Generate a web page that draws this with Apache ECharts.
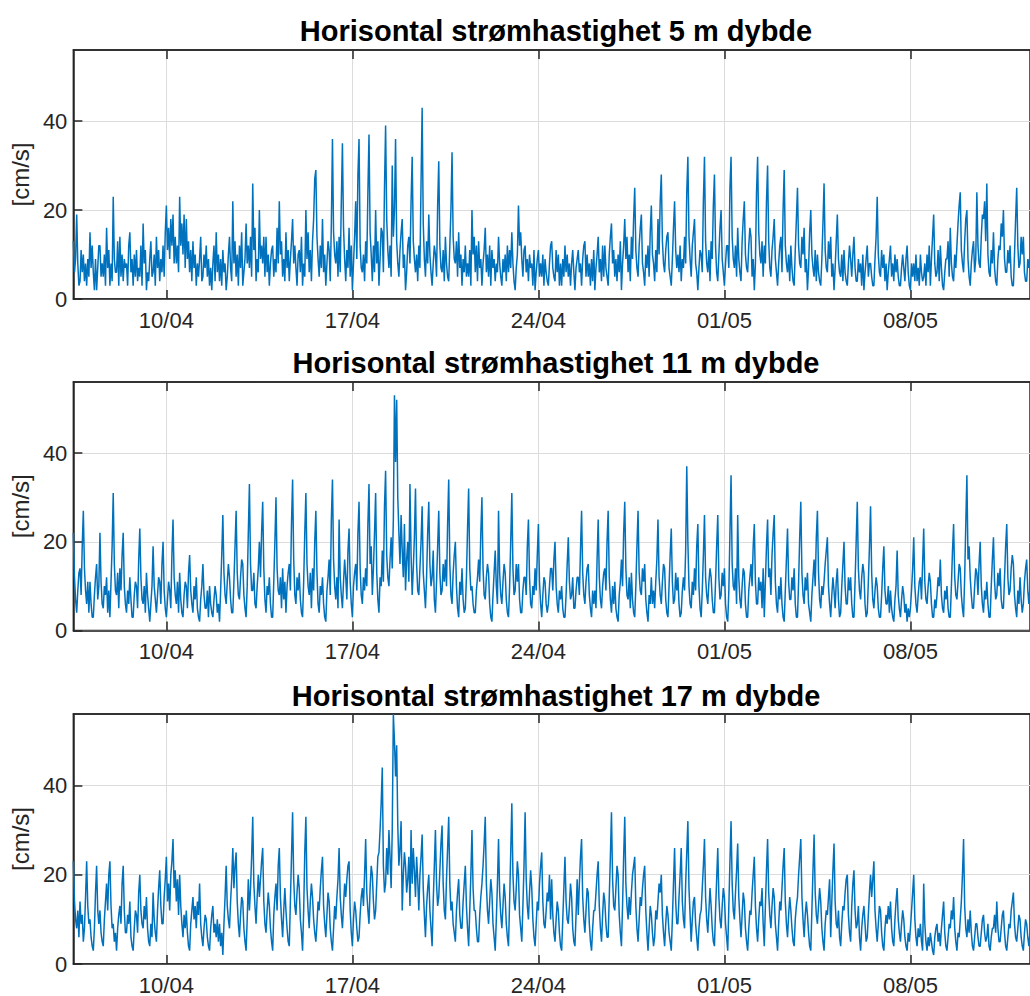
<!DOCTYPE html>
<html><head><meta charset="utf-8">
<script src="https://cdn.jsdelivr.net/npm/echarts@6/dist/echarts.min.js"></script>
<style>html,body{margin:0;padding:0;background:#fff}#c{width:1030px;height:996px}</style>
</head><body><div id="c"></div>
<script>
// one value per hour starting 06/04 12:00 (x = days since start)
const sampleStepHours = 1;
const tickDays = [3.5, 10.5, 17.5, 24.5, 31.5];
const tickLabels = ['10/04', '17/04', '24/04', '01/05', '08/05'];
const yTicks = [0, 20, 40];
const titles = ['Horisontal strømhastighet 5 m dybde', 'Horisontal strømhastighet 11 m dybde', 'Horisontal strømhastighet 17 m dybde'];
const yLabel = '[cm/s]';

const speed5m = [
13,6,9,19,8,3,4,11,6,10,4,8,3,9,5,15,7,12,6,2,9,2,7,12,
12,5,8,5,10,3,16,7,11,3,8,4,23,9,6,6,13,3,14,5,10,4,9,7,
8,3,12,15,6,9,3,10,5,11,4,7,5,12,3,17,8,11,2,6,4,9,13,5,
6,10,3,14,7,11,4,9,6,12,5,15,21,11,16,9,18,12,19,8,14,8,12,6,
23,12,17,10,19,7,18,9,13,6,11,4,13,7,10,3,8,5,9,14,4,5,10,7,
12,5,9,3,7,2,8,12,4,15,6,10,4,9,3,11,6,8,2,5,10,14,7,4,
22,8,13,5,10,3,12,7,15,3,6,9,17,8,12,7,14,5,26,11,16,4,9,6,
20,9,12,8,14,5,14,6,10,3,8,11,12,5,9,6,16,8,22,10,13,5,9,4,
15,7,11,4,9,13,18,8,12,7,3,10,11,6,14,3,8,5,20,9,15,6,11,4,
13,18,27,29,14,9,5,12,7,18,6,10,3,8,13,11,4,17,36,15,10,8,13,5,
14,6,22,35,16,9,4,11,7,16,5,12,2,8,14,22,9,28,36,12,7,6,10,4,
13,8,24,37,15,10,4,12,6,20,8,13,3,9,16,15,6,25,39,18,11,7,12,5,
30,14,20,36,13,8,5,11,15,18,7,10,2,6,12,14,8,22,32,13,9,6,10,4,
12,7,26,43,17,9,5,13,8,19,10,6,3,8,12,10,5,21,31,12,7,6,11,4,
14,8,5,4,12,20,33,14,9,8,13,5,15,7,10,3,9,6,12,5,8,5,11,3,
20,10,14,6,12,4,13,7,9,3,8,11,16,6,10,5,12,3,11,7,9,4,8,6,
14,8,5,3,9,6,10,4,12,6,11,7,15,8,4,2,7,10,21,12,15,9,5,11,
12,6,9,4,10,7,8,3,11,2,6,9,11,5,8,5,10,3,9,6,4,3,8,12,
13,7,5,4,11,6,10,3,8,3,9,5,12,6,10,5,8,3,8,11,6,2,7,9,
11,6,8,3,9,12,13,5,10,5,8,3,9,4,11,2,7,10,14,6,9,4,12,5,
12,7,5,3,10,14,17,8,11,5,9,4,10,6,13,2,8,12,18,9,14,6,10,4,
14,9,18,25,11,7,5,12,16,19,8,6,3,10,7,12,5,15,21,10,8,4,11,6,
18,10,22,28,13,8,6,11,14,15,7,5,3,9,16,22,11,7,10,6,12,4,9,7,
14,8,24,32,14,9,5,12,15,18,8,6,2,7,11,10,6,22,32,13,8,6,11,4,
13,9,21,28,12,6,4,10,16,20,9,6,3,8,12,12,7,25,32,14,9,7,12,5,
16,9,6,4,13,18,22,10,7,6,12,16,14,5,9,2,8,24,32,15,10,8,13,5,
12,8,22,30,13,7,5,11,14,18,9,6,3,8,12,14,6,20,29,12,8,6,10,4,
12,7,4,3,11,18,25,12,8,7,14,10,16,6,9,2,7,15,20,10,7,5,11,4,
10,6,4,3,9,17,26,11,7,6,13,9,14,5,8,2,7,13,19,9,6,5,10,4,
11,6,4,3,8,12,9,5,10,14,7,4,4,9,6,8,3,10,2,6,9,12,5,8,
8,5,3,3,9,14,23,10,6,5,11,7,10,4,8,2,6,9,12,5,8,4,10,6,
9,5,3,3,7,10,7,4,9,12,6,3,2,8,5,8,4,10,4,7,3,10,6,4,
5,8,3,10,6,12,3,9,14,19,8,5,6,11,4,12,7,3,2,6,9,9,13,5,
16,8,5,4,10,7,12,17,21,24,11,8,6,13,18,20,9,5,3,8,11,13,6,9,
24,12,8,7,14,19,18,22,13,26,10,6,5,11,8,15,7,4,3,9,12,11,17,14,
20,9,6,6,11,8,12,5,3,3,10,18,25,12,7,8,14,10,14,6,4,4,9,7,
10];

const speed11m = [
22,12,7,4,9,13,14,8,19,27,14,9,6,11,4,11,6,3,3,8,12,15,7,10,
22,11,6,5,10,8,12,4,9,3,11,19,31,15,9,8,13,5,14,9,17,22,10,6,
4,9,6,12,7,3,3,8,11,10,5,16,23,12,7,6,10,4,13,8,5,2,6,10,
19,10,7,4,8,12,11,6,15,20,9,5,3,7,11,9,5,17,25,12,8,6,11,4,
13,7,4,3,8,11,10,5,13,17,9,6,4,10,7,12,5,3,2,7,10,15,8,5,
5,9,3,10,6,4,3,7,10,8,4,6,2,9,17,26,13,8,6,11,15,12,7,4,
4,11,19,27,13,8,7,12,16,15,8,5,3,10,22,33,15,9,9,13,6,5,10,14,
20,12,22,29,14,7,4,10,8,12,6,3,3,11,20,30,14,9,8,12,5,14,7,11,
4,10,13,15,9,24,34,16,8,6,12,9,13,7,4,3,11,22,31,15,10,8,13,5,
14,9,20,27,13,6,4,10,8,12,6,3,2,9,12,16,8,25,34,16,10,7,12,5,
25,12,8,5,11,16,12,7,18,23,11,6,3,10,13,15,9,22,29,14,8,6,12,9,
14,10,24,33,15,19,8,14,22,31,13,7,4,12,10,18,11,28,36,17,12,10,16,21,
14,25,53,38,52,30,22,15,26,18,12,24,9,16,20,11,33,17,8,14,21,32,15,9,
8,14,20,28,13,9,5,12,22,29,15,10,12,18,7,4,11,19,27,13,8,9,15,11,
16,10,24,34,15,8,6,13,17,20,10,5,3,11,8,14,7,4,5,12,23,32,14,9,
10,6,4,4,9,12,16,11,22,30,14,8,7,12,15,13,6,3,2,8,13,18,10,6,
27,13,8,6,11,15,13,7,4,3,10,20,31,14,8,9,15,11,15,7,4,4,9,12,
12,8,19,25,12,6,5,10,8,14,9,17,24,11,6,3,8,12,11,6,4,6,10,14,
14,9,16,20,10,6,4,9,7,10,5,3,3,8,15,21,11,7,8,12,5,5,9,12,
12,8,18,27,13,8,6,11,14,15,8,5,3,9,6,9,5,16,25,12,7,5,10,13,
14,9,20,27,12,7,4,10,6,11,5,3,2,8,11,16,10,22,29,14,8,7,12,5,
13,7,4,3,10,19,27,13,9,8,14,11,15,7,4,2,8,6,12,6,9,5,11,16,
25,12,8,6,11,15,14,7,4,3,10,17,23,11,6,7,13,9,12,6,3,4,9,12,
9,18,37,20,10,6,5,11,8,14,9,19,24,10,5,3,9,17,26,12,8,6,11,14,
12,7,4,4,11,19,26,12,7,8,13,10,14,6,3,2,9,22,35,15,10,9,14,6,
26,12,7,5,10,14,13,6,3,3,9,12,15,10,19,24,11,6,6,12,9,11,5,14,
3,11,19,25,12,14,8,17,22,26,11,6,4,10,7,12,6,3,2,9,16,23,11,7,
7,12,9,14,6,3,3,11,21,29,13,8,6,12,9,13,6,4,2,8,12,16,10,21,
27,13,7,5,10,8,11,15,18,21,10,6,3,8,12,9,5,11,14,7,3,4,10,15,
20,10,6,6,12,9,12,6,3,3,11,20,29,14,9,7,12,15,13,6,3,4,11,19,
28,13,7,5,9,12,10,5,3,3,8,14,19,9,6,6,10,4,9,5,3,2,7,10,
18,8,5,3,7,10,8,4,6,2,5,3,5,9,14,21,10,6,4,8,11,12,7,15,
23,11,7,6,10,13,11,6,3,3,7,5,8,12,10,16,8,5,4,9,7,10,5,3,
3,10,18,24,12,8,7,11,15,14,8,5,3,12,24,35,16,19,12,8,5,5,10,14,
13,8,15,20,10,6,4,9,7,11,6,3,3,10,16,21,11,7,8,13,10,14,7,5,
5,12,19,24,12,8,9,14,17,15,8,5,3,9,6,12,7,4,6,11,14,16,9,6,
10];

const speed17m = [
23,14,10,8,12,6,14,9,11,5,8,15,23,13,9,10,6,4,3,8,16,22,12,9,
12,7,5,4,10,14,18,12,20,23,13,8,9,5,7,3,8,11,13,9,18,22,12,7,
7,11,9,14,6,4,3,8,12,11,7,16,20,12,9,8,13,10,15,8,5,4,9,6,
16,10,7,5,12,17,21,13,9,9,15,19,24,14,18,12,20,23,28,17,21,14,19,11,
20,13,9,6,11,8,12,7,4,3,9,12,15,10,13,8,14,11,18,9,6,4,8,11,
10,6,4,3,8,11,13,7,9,6,10,5,9,4,7,2,9,15,22,13,10,8,14,19,
26,17,22,25,14,9,6,11,15,14,8,5,3,10,19,12,17,24,33,18,13,9,15,20,
15,19,23,26,14,9,7,12,16,13,8,5,3,11,15,18,12,22,26,15,10,6,12,17,
12,8,5,4,14,24,34,19,13,11,16,20,17,10,7,3,12,25,33,17,12,8,14,18,
15,10,7,5,9,14,12,17,21,24,13,9,6,11,16,14,8,5,3,8,13,10,15,19,
26,15,11,8,13,18,15,19,22,23,12,7,4,10,14,12,8,5,6,11,15,17,13,20,
28,16,12,9,17,22,20,14,10,12,18,24,25,30,36,44,22,16,18,26,20,30,24,17,
30,56,50,42,49,31,22,26,32,12,20,25,22,16,19,24,13,30,18,26,21,15,24,19,
12,20,24,29,17,11,6,13,17,20,12,8,4,14,22,30,18,13,15,21,27,31,18,12,
10,19,26,33,18,12,14,9,7,5,12,16,19,11,8,8,14,18,22,13,8,4,12,20,
30,17,12,12,8,5,5,11,15,18,22,27,33,18,12,9,14,19,16,9,6,3,10,18,
28,16,11,8,13,18,15,9,6,4,14,25,36,20,14,12,17,23,20,11,8,5,13,22,
34,19,13,10,16,21,17,10,6,4,9,14,12,18,22,25,14,9,8,12,16,14,20,10,
19,11,7,5,10,14,12,7,4,3,10,17,24,14,10,9,13,18,15,8,5,4,11,19,
11,18,24,28,15,10,7,12,17,16,9,5,3,8,12,12,16,20,23,13,8,5,11,16,
14,9,6,6,15,24,34,19,13,12,17,22,20,11,7,4,13,24,33,18,13,10,15,11,
16,20,22,24,13,8,5,10,15,13,17,20,22,12,7,3,8,13,11,7,4,6,12,10,
14,18,16,20,11,7,4,9,13,11,7,5,3,10,18,26,14,9,9,15,20,26,14,10,
8,18,25,32,17,11,5,10,14,15,9,6,3,8,11,12,17,22,28,15,10,7,12,17,
13,8,5,4,12,19,26,15,10,8,13,17,15,9,6,3,13,23,32,18,12,10,16,21,
27,15,10,6,11,16,14,8,5,3,8,12,11,16,20,24,13,8,5,10,14,13,17,9,
4,13,21,28,16,11,8,13,17,15,9,6,3,9,14,12,17,22,26,14,9,6,11,15,
12,8,5,4,10,13,15,20,24,28,15,10,6,11,14,11,7,4,3,12,21,29,16,11,
9,13,17,14,8,5,3,9,12,11,15,19,6,14,21,27,14,9,8,12,6,4,9,13,
12,16,19,20,11,7,5,13,18,21,12,8,9,13,6,3,8,11,13,9,5,6,11,16,
20,15,19,23,12,8,5,9,13,12,7,4,3,8,11,9,13,10,14,8,5,4,10,14,
17,10,7,5,9,12,10,6,4,3,7,5,8,12,16,20,10,6,4,8,6,9,5,3,
18,9,5,3,6,4,7,5,3,2,6,8,9,5,7,4,8,11,14,7,4,3,6,9,
8,12,10,15,8,5,3,7,6,10,14,20,28,13,8,6,10,7,12,7,4,3,6,9,
9,6,4,4,7,10,11,7,5,6,9,4,3,6,8,8,11,7,14,8,5,5,8,11,
12,7,4,3,6,9,8,12,14,16,9,6,5,8,11,10,6,4,3,7,10,9,6,4,
7];

const seriesValues = [speed5m, speed11m, speed17m];
const layout = [
  {top: 50, height: 249, titleY: 31},
  {top: 382, height: 248.5, titleY: 363},
  {top: 714, height: 251, titleY: 696}
];
const FONT = 'Liberation Sans, Arial, Helvetica, sans-serif';
const AX = '#262626';
const GRIDC = '#dcdcdc';
const X_MAX = 36;

const grids = [], xAxes = [], yAxes = [], series = [], graphics = [];
layout.forEach((L, k) => {
  grids.push({left: 71.5, right: -11, top: L.top, height: L.height, show: true,
    borderColor: AX, borderWidth: 1.5, backgroundColor: 'transparent'});
  xAxes.push({type: 'value', gridIndex: k, position: 'bottom', min: 0, max: X_MAX,
    axisLine: {show: true, lineStyle: {color: AX, width: 1.5}},
    axisTick: {show: true, inside: true, length: 9, customValues: tickDays, lineStyle: {color: AX, width: 1.5}},
    axisLabel: {show: true, customValues: tickDays, margin: 10, color: AX, fontSize: 22, fontFamily: FONT,
      formatter: v => { const i = tickDays.indexOf(v); return i >= 0 ? tickLabels[i] : ''; }},
    splitLine: {show: true, lineStyle: {color: GRIDC, width: 1}}
  });
  xAxes.push({type: 'value', gridIndex: k, position: 'top', min: 0, max: X_MAX,
    axisLine: {show: true, lineStyle: {color: AX, width: 1.5}},
    axisTick: {show: true, inside: true, length: 9, customValues: tickDays, lineStyle: {color: AX, width: 1.5}},
    axisLabel: {show: false}, splitLine: {show: false}
  });
  yAxes.push({type: 'value', gridIndex: k, min: 0, max: 56,
    name: yLabel, nameLocation: 'middle', nameRotate: 90, nameGap: 30,
    nameTextStyle: {color: AX, fontSize: 24, fontFamily: FONT},
    axisLine: {show: true, lineStyle: {color: AX, width: 1.5}},
    axisTick: {show: true, inside: true, length: 9, customValues: yTicks, lineStyle: {color: AX, width: 1.5}},
    axisLabel: {show: true, customValues: yTicks, margin: 6, color: AX, fontSize: 22, fontFamily: FONT},
    splitLine: {show: true, lineStyle: {color: GRIDC, width: 1}}
  });
  series.push({type: 'line', xAxisIndex: 2 * k, yAxisIndex: k,
    data: seriesValues[k].map((v, i) => [i * sampleStepHours / 24, v]),
    showSymbol: false, symbol: 'none', clip: true,
    lineStyle: {color: '#0072BD', width: 1.5}, itemStyle: {color: '#0072BD'}, animation: false});
  graphics.push({type: 'text', x: 556, y: L.titleY,
    style: {text: titles[k], font: 'bold 29px ' + FONT, fill: '#000', textAlign: 'center', textVerticalAlign: 'middle'}});
});

const chart = echarts.init(document.getElementById('c'), null, {renderer: 'svg'});
chart.setOption({
  animation: false, backgroundColor: '#fff',
  grid: grids, xAxis: xAxes, yAxis: yAxes, series: series, graphic: graphics
});
</script>
</body></html>
